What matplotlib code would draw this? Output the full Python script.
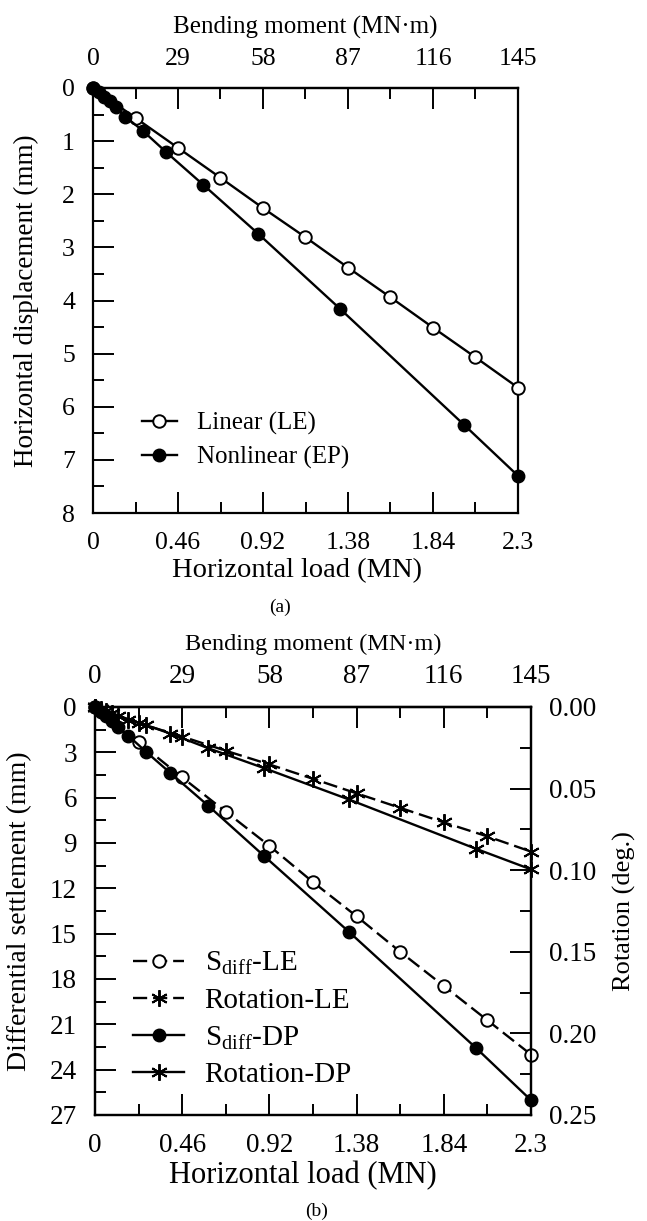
import matplotlib
matplotlib.use("Agg")
import matplotlib.pyplot as plt
import numpy as np
from matplotlib.ticker import MultipleLocator
from matplotlib.lines import Line2D

plt.rcParams['font.family'] = ['Liberation Serif', 'DejaVu Serif']
plt.rcParams['mathtext.fontset'] = 'custom'
plt.rcParams['mathtext.rm'] = 'Liberation Serif'
plt.rcParams['mathtext.it'] = 'Liberation Serif:italic'

# ---- panel (a) data: horizontal load (MN) vs horizontal displacement (mm)
load_le = [0, 0.23, 0.46, 0.69, 0.92, 1.15, 1.38, 1.61, 1.84, 2.07, 2.3]
disp_le = [0, 0.563, 1.126, 1.69, 2.26, 2.81, 3.38, 3.94, 4.51, 5.07, 5.64]

load_ep = [0, 0.03, 0.06, 0.09, 0.122, 0.175, 0.268, 0.397, 0.596, 0.893, 1.338, 2.008, 2.3]
disp_ep = [0, 0.08, 0.16, 0.25, 0.35, 0.54, 0.80, 1.21, 1.82, 2.74, 4.16, 6.34, 7.30]

# ---- panel (b) data
sdiff_le = [0, 2.34, 4.66, 6.93, 9.19, 11.59, 13.85, 16.2, 18.46, 20.73, 23.0]
rot_le = [0, 0.0098, 0.0181, 0.0268, 0.0352, 0.0440, 0.0529, 0.0618, 0.0707, 0.0793, 0.0886]

sdiff_dp = [0, 0.3, 0.6, 0.95, 1.335, 1.89, 2.95, 4.36, 6.52, 9.87, 14.86, 22.54, 26.02]
rot_dp = [0, 0.001, 0.0025, 0.0038, 0.0055, 0.0077, 0.011, 0.0163, 0.0252, 0.0375, 0.0566, 0.0868, 0.0995]

load_ticks = [0, 0.46, 0.92, 1.38, 1.84, 2.3]
load_labels = ['0', '0.46', '0.92', '1.38', '1.84', '2.3']
moment_ticks = [0, 29, 58, 87, 116, 145]

M_PER_LOAD = 145 / 2.3

W, H = 647, 1221
fig = plt.figure(figsize=(W / 100, H / 100), dpi=100)

LW = 1.7
MS = 9
MEW = 1.4
ast = (6, 2, 0)
dash = (0, (6, 2.5))


def style_axis(ax, tsize):
    ax.tick_params(which='both', direction='in', width=1.4, labelsize=tsize)
    ax.tick_params(which='major', length=15, pad=13)
    ax.tick_params(which='minor', length=8)
    for s in ax.spines.values():
        s.set_linewidth(1.6)


def add_top(ax, tsize, lsize):
    sec = ax.secondary_xaxis('top', functions=(lambda x: x * M_PER_LOAD,
                                               lambda m: m / M_PER_LOAD))
    sec.set_xticks(moment_ticks)
    sec.set_xticklabels([str(t) for t in moment_ticks])
    sec.xaxis.set_minor_locator(MultipleLocator(14.5))
    sec.tick_params(which='both', direction='in', width=1.4, labelsize=tsize)
    sec.tick_params(which='major', length=15, pad=13)
    sec.tick_params(which='minor', length=8)
    sec.spines['top'].set_linewidth(1.6)
    sec.set_xlabel('Bending moment (MN\u00b7m)', fontsize=lsize, labelpad=10)
    return sec


# ================= panel (a)
ax1 = fig.add_axes([93 / W, 1 - 513 / H, 425 / W, 425 / H])
ax1.plot(load_le, disp_le, '-o', color='black', lw=LW, ms=MS, mfc='white',
         mec='black', mew=MEW, clip_on=False, zorder=3, label='Linear (LE)')
ax1.plot(load_ep, disp_ep, '-o', color='black', lw=LW, ms=MS, mfc='black',
         mec='black', clip_on=False, zorder=4, label='Nonlinear (EP)')
ax1.set_xlim(0, 2.3)
ax1.set_ylim(8, 0)
ax1.set_xticks(load_ticks)
ax1.set_xticklabels(load_labels)
ax1.xaxis.set_minor_locator(MultipleLocator(0.23))
ax1.set_yticks(range(0, 9))
ax1.yaxis.set_minor_locator(MultipleLocator(0.5))
style_axis(ax1, 18.5)
ax1.tick_params(axis='x', which='major', pad=14)
ax1.set_xlabel('Horizontal load (MN)', fontsize=20.5)
ax1.xaxis.set_label_coords(0.48, -0.105)
ax1.set_ylabel('Horizontal displacement (mm)', fontsize=19.5)
ax1.yaxis.set_label_coords(-0.128, 0.5)
add_top(ax1, 18.5, 18)
ax1.legend(loc='center left', bbox_to_anchor=(0.115, 0.17), frameon=False,
           fontsize=18, handlelength=1.4, handletextpad=0.8, labelspacing=0.45,
           borderpad=0, borderaxespad=0, numpoints=1)
fig.text(280 / W, 1 - 607 / H, '(a)', fontsize=14, ha='center', va='center')

# ================= panel (b)
ax2 = fig.add_axes([95 / W, 1 - 1115 / H, 436 / W, 408 / H])
ax3 = ax2.twinx()
ax2.plot(load_le, sdiff_le, 'o', ls=dash, color='black', lw=LW, ms=MS,
         mfc='white', mec='black', mew=MEW, clip_on=False, zorder=3)
ax2.plot(load_ep, sdiff_dp, '-o', color='black', lw=LW, ms=MS, mfc='black',
         mec='black', clip_on=False, zorder=4)
ax3.plot(load_le, rot_le, ls=dash, marker=ast, color='black', lw=LW,
         ms=MS + 3, mew=MEW, clip_on=False, zorder=3)
ax3.plot(load_ep, rot_dp, '-', marker=ast, color='black', lw=LW, ms=MS + 3,
         mew=MEW, clip_on=False, zorder=3)
ax2.set_xlim(0, 2.3)
ax2.set_ylim(27, 0)
ax3.set_ylim(0.25, 0)
ax2.set_xticks(load_ticks)
ax2.set_xticklabels(load_labels)
ax2.xaxis.set_minor_locator(MultipleLocator(0.23))
ax2.set_yticks(range(0, 28, 3))
ax2.yaxis.set_minor_locator(MultipleLocator(1.5))
ax3.set_yticks([0, 0.05, 0.10, 0.15, 0.20, 0.25])
ax3.set_yticklabels(['0.00', '0.05', '0.10', '0.15', '0.20', '0.25'])
ax3.yaxis.set_minor_locator(MultipleLocator(0.025))
style_axis(ax2, 19.5)
style_axis(ax3, 19.5)
ax2.tick_params(axis='x', which='major', pad=13)
ax2.set_xlabel('Horizontal load (MN)', fontsize=22)
ax2.xaxis.set_label_coords(0.477, -0.112)
ax2.set_ylabel('Differential settlement (mm)', fontsize=20)
ax2.yaxis.set_label_coords(-0.145, 0.5)
ax3.set_ylabel('Rotation (deg.)', fontsize=19, rotation=90, va='top')
ax3.yaxis.set_label_coords((613 - 95) / 436, 0.5)
add_top(ax2, 19.5, 17.5)

handles = [
    Line2D([], [], ls=dash, marker='o', color='black', lw=LW, ms=MS,
           mfc='white', mec='black', mew=MEW),
    Line2D([], [], ls=dash, marker=ast, color='black', lw=LW,
           ms=MS + 3, mew=MEW),
    Line2D([], [], ls='-', marker='o', color='black', lw=LW, ms=MS, mfc='black'),
    Line2D([], [], ls='-', marker=ast, color='black', lw=LW, ms=MS + 3, mew=MEW),
]
labels = [r'S$_{\rm diff}$-LE', 'Rotation-LE', r'S$_{\rm diff}$-DP', 'Rotation-DP']
ax2.legend(handles, labels, loc='center left', bbox_to_anchor=(0.087, 0.235),
           frameon=False, fontsize=21, handlelength=1.76, handletextpad=0.7,
           labelspacing=0.36, borderpad=0, borderaxespad=0, numpoints=1)
fig.text(317 / W, 1 - 1211 / H, '(b)', fontsize=14, ha='center', va='center')

fig.savefig('out.png', dpi=100)
